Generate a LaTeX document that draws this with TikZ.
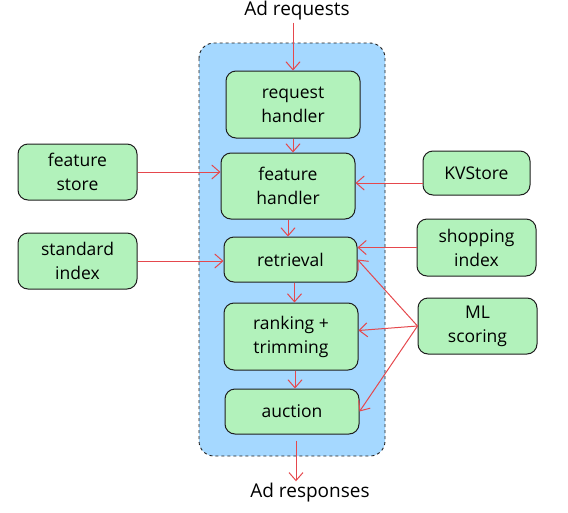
\documentclass[tikz,border=0pt]{standalone}
\usepackage{fontspec}
\setmainfont{Open Sans}
\usepackage{xcolor}
\usepackage{tikz}
\usetikzlibrary{positioning,arrows.meta}
\definecolor{boxgreen}{HTML}{B2F2BB}
\definecolor{panelblue}{HTML}{A5D8FF}
\definecolor{linkred}{HTML}{E5484D}
\definecolor{inkdark}{HTML}{1E1E1E}

\begin{document}
\begin{tikzpicture}[x=1pt, y=-1pt,
  box/.style={draw=inkdark, fill=boxgreen, rounded corners=10pt, line width=1pt,
              align=center, inner sep=0pt, font=\fontsize{17.5}{24}\selectfont},
  link/.style={draw=linkred, line width=1pt, -{Straight Barb[length=8pt,width=14pt]}},
  lbl/.style={font=\fontsize{19}{22}\selectfont, inner sep=2pt}
]
\useasboundingbox (0,0) rectangle (568,512);
% service container
\draw[fill=panelblue, draw=inkdark, dashed, line width=0.9pt, rounded corners=15pt]
  (199,43) rectangle (385,456);
\node[lbl] (req) at (297,11) {Ad requests};
\node[lbl] (resp) at (310,493) {Ad responses};
\node[box, minimum width=134pt, minimum height=67pt] (rh) at (293,104.5) {request\\handler};
\node[box, minimum width=134pt, minimum height=66pt] (fh) at (288,186) {feature\\handler};
\node[box, minimum width=133pt, minimum height=45pt] (retr) at (290.5,259.5) {retrieval};
\node[box, minimum width=134pt, minimum height=67pt] (rank) at (291,336.5) {ranking +\\trimming};
\node[box, minimum width=134pt, minimum height=45pt] (auc) at (292,411.5) {auction};
\node[box, minimum width=119pt, minimum height=56pt] (fs) at (77.5,172) {feature\\store};
\node[box, minimum width=119pt, minimum height=56pt] (si) at (77.5,261) {standard\\index};
\node[box, minimum width=107pt, minimum height=44pt] (kv) at (476.5,173) {KVStore};
\node[box, minimum width=119pt, minimum height=57pt] (shop) at (476.5,247.5) {shopping\\index};
\node[box, minimum width=119pt, minimum height=56pt] (ml) at (477.5,326) {ML\\scoring};
% pipeline
\draw[link] (rh.north |- req.south) -- (rh.north);
\draw[link] (rh.south) -- (rh.south |- fh.north);
\draw[link] (fh.south) -- (fh.south |- retr.north);
\draw[link] ([xshift=4pt]retr.south) -- ([xshift=4pt]retr.south |- rank.north);
\draw[link] ([xshift=4pt]rank.south) -- ([xshift=4pt]rank.south |- auc.north);
\draw[link] ([xshift=4pt,yshift=-6pt]auc.south) -- ([xshift=4pt]auc.south |- resp.north);
% data sources
\draw[link] (fs.east) -- (fs.east -| fh.west);
\draw[link] (si.east) -- (si.east -| retr.west);
\draw[link] ([yshift=-10pt]kv.west) -- ([yshift=-10pt]kv.west -| fh.east);
\draw[link] (shop.west) -- (shop.west -| retr.east);
\draw[link] (ml.west) -- (retr.east);
\draw[link] (ml.west) -- ([yshift=6pt]rank.east);
\draw[link] (ml.west) -- (auc.east);
\end{tikzpicture}
\end{document}
